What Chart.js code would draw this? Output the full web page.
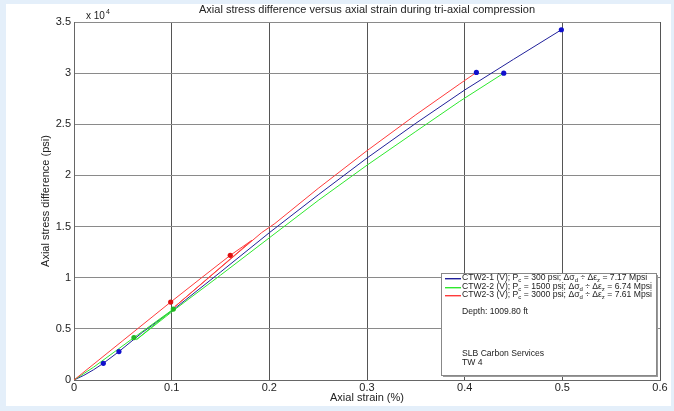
<!DOCTYPE html>
<html>
<head>
<meta charset="utf-8">
<script src="https://cdn.jsdelivr.net/npm/chart.js@4.4.0/dist/chart.umd.min.js"></script>
<style>
  html, body { margin: 0; padding: 0; background: #e4effa; overflow: hidden; }
  #panel { position: absolute; left: 6px; top: 4px; width: 665px; height: 402px; background: #fff; }
</style>
</head>
<body>
<div id="panel"><canvas id="stressStrain" width="665" height="402"></canvas></div>
<script>
/* Axial stress difference vs axial strain — tri-axial compression, three confining pressures */

// CTW2-1, Pc = 300 psi
const ctw1Strain = [0, 0.01, 0.02, 0.03, 0.046, 0.07, 0.1, 0.15, 0.2, 0.25, 0.3, 0.35, 0.4, 0.45, 0.499];
const ctw1Stress = [0, 450, 1000, 1630, 2780, 4650, 6750, 10550, 14400, 18100, 21700, 25100, 28350, 31350, 34240];

// CTW2-2, Pc = 1500 psi (one unload/reload loop)
const ctw2Strain = [0, 0.02, 0.04, 0.0614, 0.1017, 0.064, 0.104, 0.15, 0.2, 0.25, 0.3, 0.35, 0.395, 0.44];
const ctw2Stress = [0, 1250, 2650, 4150, 6930, 3950, 6950, 10250, 13900, 17550, 21000, 24300, 27250, 30000];

// CTW2-3, Pc = 3000 psi (one unload/reload loop)
const ctw3Strain = [0, 0.05, 0.099, 0.13, 0.16, 0.182, 0.103, 0.192, 0.2057, 0.25, 0.3, 0.35, 0.395, 0.412];
const ctw3Stress = [0, 3850, 7620, 9950, 12190, 13650, 7150, 14400, 15300, 18730, 22420, 25930, 28950, 30070];

// marked points
const blueMarkStrain = [0.03, 0.046, 0.499, 0.412, 0.44];
const blueMarkStress = [1630, 2780, 34240, 30070, 30000];
const redMarkStrain = [0.099, 0.16];
const redMarkStress = [7620, 12190];
const greenMarkStrain = [0.0614, 0.1017];
const greenMarkStress = [4150, 6930];

// legend text
const sampleNames = ['CTW2-1 (V)', 'CTW2-2 (V)', 'CTW2-3 (V)'];
const confining = [300, 1500, 3000];
const modulus = ['7.17', '6.74', '7.61'];
const depthNote = 'Depth: 1009.80 ft';
const labNotes = ['SLB Carbon Services', 'TW 4'];

const COLORS = {
  blue: '#20209a',
  green: '#2ee82e',
  red: '#ff3b3b',
  blueMark: '#1010cc',
  redMark: '#e01010',
  greenMark: '#22b822',
  text: '#222',
};
const FONT = "Arial, 'Liberation Sans', sans-serif";

const pts = (xs, ys) => xs.map((x, i) => ({ x, y: ys[i] }));

// title, exponent label and the boxed legend drawn on top of the chart
const annotations = {
  id: 'annotations',
  afterDraw(chart) {
    const { ctx, chartArea: a } = chart;
    ctx.save();
    ctx.fillStyle = COLORS.text;
    ctx.font = `11px ${FONT}`;
    ctx.textAlign = 'center';
    ctx.textBaseline = 'middle';
    ctx.fillText('Axial stress difference versus axial strain during tri-axial compression', (a.left + a.right) / 2, 6);

    ctx.textAlign = 'left';
    ctx.font = `10px ${FONT}`;
    ctx.fillText('x 10', a.left + 12, 12);
    const w = ctx.measureText('x 10').width;
    ctx.font = `7px ${FONT}`;
    ctx.fillText('4', a.left + 13 + w, 8);

    // legend box
    const bx = Math.round(a.right - 219), by = Math.round(a.bottom - 107), bw = 215, bh = 102;
    ctx.fillStyle = '#999';
    ctx.fillRect(bx + 2, by + 2, bw, bh);
    ctx.fillStyle = '#fff';
    ctx.fillRect(bx, by, bw, bh);
    ctx.strokeStyle = '#888';
    ctx.lineWidth = 1;
    ctx.strokeRect(bx + 0.5, by + 0.5, bw, bh);

    const lineColors = [COLORS.blue, COLORS.green, COLORS.red];
    const tx = bx + 21;
    sampleNames.forEach((name, i) => {
      const y = Math.round(by + 5 + i * 8.5);
      ctx.fillStyle = lineColors[i];
      ctx.fillRect(bx + 4, y, 16, 1.4);
      drawRich(ctx, tx, y, [
        [`${name}; P`], ['c', true], [` = ${confining[i]} psi; \u0394\u03c3`], ['d', true],
        [' \u00f7 \u0394\u03b5'], ['z', true], [` = ${modulus[i]} Mpsi`],
      ]);
    });
    ctx.fillStyle = COLORS.text;
    ctx.font = `8.6px ${FONT}`;
    ctx.fillText(depthNote, tx, by + 38.5);
    labNotes.forEach((t, i) => ctx.fillText(t, tx, by + 81 + i * 8.5));
    ctx.restore();
  },
};

function drawRich(ctx, x, y, parts) {
  ctx.fillStyle = COLORS.text;
  ctx.textAlign = 'left';
  ctx.textBaseline = 'middle';
  parts.forEach(([t, sub]) => {
    ctx.font = sub ? `6px ${FONT}` : `8.6px ${FONT}`;
    ctx.fillText(t, x, sub ? y + 2.5 : y);
    x += ctx.measureText(t).width;
  });
}

const lineSet = (label, xs, ys, color) => ({
  label, data: pts(xs, ys), showLine: true, borderColor: color, borderWidth: 1,
  pointRadius: 0, tension: 0,
});
const markSet = (label, xs, ys, color) => ({
  label, data: pts(xs, ys), showLine: false, pointRadius: 2.6, pointStyle: 'circle',
  pointBackgroundColor: color, pointBorderColor: color, pointBorderWidth: 0,
});

new Chart(document.getElementById('stressStrain'), {
  type: 'scatter',
  data: {
    datasets: [
      markSet('blue marks', blueMarkStrain, blueMarkStress, COLORS.blueMark),
      markSet('red marks', redMarkStrain, redMarkStress, COLORS.redMark),
      markSet('green marks', greenMarkStrain, greenMarkStress, COLORS.greenMark),
      lineSet('CTW2-3', ctw3Strain, ctw3Stress, COLORS.red),
      lineSet('CTW2-2', ctw2Strain, ctw2Stress, COLORS.green),
      lineSet('CTW2-1', ctw1Strain, ctw1Stress, COLORS.blue),
    ],
  },
  options: {
    responsive: false,
    animation: false,
    layout: { padding: { left: 0, top: 18, right: 11, bottom: 0 } },
    plugins: { legend: { display: false }, tooltip: { enabled: false } },
    scales: {
      x: {
        type: 'linear', min: 0, max: 0.6,
        ticks: { stepSize: 0.1, color: COLORS.text, font: { family: FONT, size: 11 }, padding: 1,
          callback: v => String(Number(v.toFixed(1))) },
        grid: { color: '#555', drawTicks: false },
        border: { color: '#666' },
        title: { display: true, text: 'Axial strain (%)', color: COLORS.text,
          font: { family: FONT, size: 11 }, padding: { top: 0, bottom: 1 } },
        afterFit: s => { s.height = 26; },
      },
      y: {
        type: 'linear', min: 0, max: 35000,
        ticks: { stepSize: 5000, color: COLORS.text, font: { family: FONT, size: 11 }, padding: 3,
          callback: v => String(v / 1e4) },
        grid: { color: '#8a8a8a', drawTicks: false },
        border: { color: '#666' },
        title: { display: true, text: 'Axial stress difference (psi)', color: COLORS.text,
          font: { family: FONT, size: 11 }, padding: { top: 33, bottom: 0 } },
        afterFit: s => { s.width = 68; },
      },
    },
  },
  plugins: [annotations],
});
</script>
</body>
</html>
